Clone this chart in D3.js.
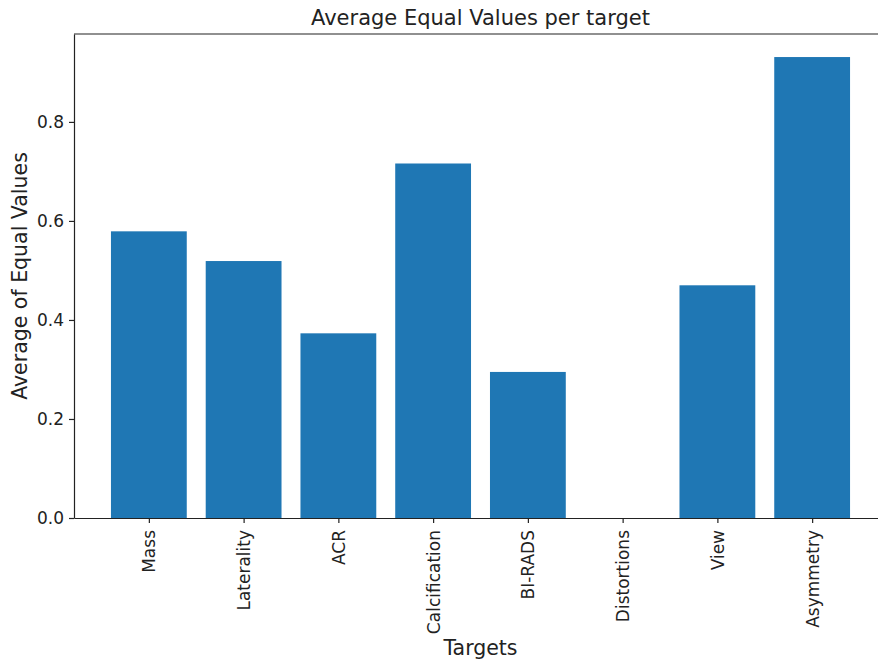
<!DOCTYPE html>
<html>
<head>
<meta charset="utf-8">
<script src="https://cdn.jsdelivr.net/npm/d3@7"></script>
<style>
  html, body { margin: 0; padding: 0; background: #fff; overflow: hidden; }
  svg { display: block; font-family: "DejaVu Sans", sans-serif; }
</style>
</head>
<body>
<svg id="chart" width="878" height="662"></svg>
<script>
// Targets and their average share of equal values
const categories = ["Mass", "Laterality", "ACR", "Calcification", "BI-RADS", "Distortions", "View", "Asymmetry"];
const averages = [0.579, 0.519, 0.373, 0.716, 0.295, 0.0, 0.470, 0.931];
const yTicks = [0.0, 0.2, 0.4, 0.6, 0.8];

const chartTitle = "Average Equal Values per target";
const xTitle = "Targets";
const yTitle = "Average of Equal Values";

const W = 878, H = 662;
const margin = { left: 74, right: -9, top: 34, bottom: 144 };
const plotW = W - margin.left - margin.right;
const plotH = H - margin.top - margin.bottom;

const svg = d3.select("#chart");
const g = svg.append("g").attr("transform", `translate(${margin.left},${margin.top})`);

// Matplotlib-like spacing: bars 0.8 wide, 0.39-unit margins on each side
const n = categories.length;
const xLin = d3.scaleLinear().domain([-0.79, n - 1 + 0.79]).range([0, plotW]);
const barW = xLin(0.8) - xLin(0);
const yMax = d3.max(averages) * 1.05;
const y = d3.scaleLinear().domain([0, yMax]).range([plotH, 0]);

// Bars
g.selectAll("rect.bar")
  .data(averages)
  .join("rect")
  .attr("class", "bar")
  .attr("x", (d, i) => xLin(i) - barW / 2)
  .attr("width", barW)
  .attr("y", d => y(d))
  .attr("height", d => plotH - y(d))
  .attr("fill", "#1f77b4");

// Y axis
const yAxis = d3.axisLeft(y).tickValues(yTicks).tickFormat(d3.format(".1f"))
  .tickSize(5).tickSizeOuter(0).tickPadding(5);
const ya = g.append("g").call(yAxis);
ya.select(".domain").attr("stroke", "#222").attr("stroke-width", 1.2);
ya.selectAll(".tick line").attr("stroke", "#222").attr("stroke-width", 1.2);
ya.selectAll(".tick text").attr("font-size", 17).attr("fill", "#222").attr("font-family", "DejaVu Sans");

// X axis with rotated category labels
const xAxis = d3.axisBottom(xLin).tickValues(d3.range(n)).tickFormat(i => categories[i])
  .tickSize(5).tickSizeOuter(0);
const xa = g.append("g").attr("transform", `translate(0,${plotH})`).call(xAxis);
xa.select(".domain").attr("stroke", "#222").attr("stroke-width", 1.2);
xa.selectAll(".tick line").attr("stroke", "#222").attr("stroke-width", 1.2);
xa.selectAll(".tick text")
  .attr("font-size", 17)
  .attr("fill", "#222")
  .attr("font-family", "DejaVu Sans")
  .attr("transform", "rotate(-90)")
  .attr("text-anchor", "end")
  .attr("x", -12)
  .attr("y", 0)
  .attr("dy", "0.35em");

// Top and right spines
g.append("line").attr("x1", 0).attr("x2", plotW).attr("y1", 0).attr("y2", 0)
  .attr("stroke", "#222").attr("stroke-width", 1.2);
g.append("line").attr("x1", plotW).attr("x2", plotW).attr("y1", 0).attr("y2", plotH)
  .attr("stroke", "#222").attr("stroke-width", 1.2);

// Titles
svg.append("text")
  .attr("x", margin.left + plotW / 2).attr("y", 25)
  .attr("text-anchor", "middle").attr("font-size", 21).attr("fill", "#222")
  .text(chartTitle);

svg.append("text")
  .attr("x", margin.left + plotW / 2).attr("y", 655)
  .attr("text-anchor", "middle").attr("font-size", 20.5).attr("fill", "#222")
  .text(xTitle);

svg.append("text")
  .attr("transform", `translate(27,${margin.top + plotH / 2}) rotate(-90)`)
  .attr("text-anchor", "middle").attr("font-size", 20.5).attr("fill", "#222")
  .text(yTitle);
</script>
</body>
</html>
